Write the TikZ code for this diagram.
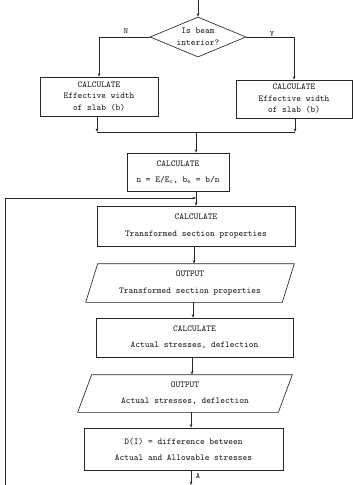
\documentclass[tikz,border=0pt]{standalone}
\usetikzlibrary{shapes.geometric,arrows.meta}
\begin{document}
\begin{tikzpicture}[x=1pt,y=-1pt,
  line width=0.65pt, draw=black!85,
  every node/.style={font=\ttfamily\fontsize{9}{11}\selectfont, text=black!90},
  proc/.style={draw=black!85, rectangle, inner sep=0pt, align=center},
  decision/.style={draw=black!85, diamond, aspect=2.4, inner sep=0pt, align=center,
                   minimum width=96pt, minimum height=40pt},
  iobox/.style={rectangle, inner sep=0pt, align=center},
  arr/.style={-{Stealth[length=3.5pt,width=2.6pt]}},
  lbl/.style={font=\ttfamily\fontsize{8}{9}\selectfont}
]
\useasboundingbox (0,0) rectangle (353,485);

% decision and the two branch boxes
\node[decision] (d) at (198,37) {Is beam\\[1pt]interior?};
\node[proc, minimum width=118pt, minimum height=39pt] (bl) at (99,96.5)
  {CALCULATE\\[0.5pt]Effective width\\[0.5pt]of slab (b)};
\node[proc, minimum width=116pt, minimum height=38pt] (br) at (294,99)
  {CALCULATE\\[0.5pt]Effective width\\[0.5pt]of slab (b)};
\node[lbl] (n) at (126,31) {N};
\node[lbl] (y) at (272,34) {Y};

% main chain
\node[proc, minimum width=102pt, minimum height=38pt] (b3) at (178,172)
  {CALCULATE\\[5pt]n = E/E\textsubscript{c}, b\textsubscript{e} = b/n};
\node[proc, minimum width=198pt, minimum height=40pt] (b4) at (196,226)
  {CALCULATE\\[6pt]Transformed section properties};
\node[iobox, minimum width=196pt, minimum height=38pt] (p1) at (190,283)
  {OUTPUT\\[6pt]Transformed section properties};
\draw ([xshift=6pt]p1.north west) -- ([xshift=6pt]p1.north east)
  -- ([xshift=-6pt]p1.south east) -- ([xshift=-6pt]p1.south west) -- cycle;
\node[proc, minimum width=197pt, minimum height=39pt] (b5) at (194.5,337.5)
  {CALCULATE\\[5pt]Actual stresses, deflection};
\node[iobox, minimum width=200pt, minimum height=37pt] (p2) at (185,393.5)
  {OUTPUT\\[5pt]Actual stresses, deflection};
\draw ([xshift=7pt]p2.north west) -- ([xshift=7pt]p2.north east)
  -- ([xshift=-7pt]p2.south east) -- ([xshift=-7pt]p2.south west) -- cycle;
\node[proc, minimum width=199pt, minimum height=42pt] (b6) at (183.5,449)
  {D(I) = difference between\\[5pt]Actual and Allowable stresses};

% connector helpers
\coordinate (top) at (198,0);
\coordinate (mL) at (97,132);
\coordinate (mR) at (295,132);
\coordinate (mC) at (196,132);
\coordinate (jn) at (196,198);
\coordinate (lb) at (5,485);
\coordinate (lc) at (5,198);
\coordinate (c4) at (194,0);
\coordinate (c5) at (193,0);
\coordinate (c6) at (192,0);
\coordinate (c7) at (191,0);
\coordinate (out) at (191,485);

% connectors
\draw[arr] (top) -- (d.north);
\draw[arr] (d.west) -| (bl.north);
\draw[arr] (d.east) -| (br.north);
\draw[arr] (bl.south -| mL) -- (mL);
\draw[arr] (br.south -| mR) -- (mR);
\draw (mL) -- (mR);
\draw[arr] (mC) -- (mC |- b3.north);
\draw (b3.south -| jn) -- (jn);
\draw[arr] (jn) -- (jn |- b4.north);
\draw[arr] (lb) -- (lc) -- (jn);
\draw[arr] (b4.south -| c4) -- (p1.north -| c4);
\draw[arr] (p1.south -| c5) -- (b5.north -| c5);
\draw[arr] (b5.south -| c6) -- (p2.north -| c6);
\draw[arr] (p2.south -| c7) -- (b6.north -| c7);
\draw[arr] (b6.south -| out) -- (out);
\node[lbl] (a) at (198,476) {A};
\end{tikzpicture}
\end{document}
